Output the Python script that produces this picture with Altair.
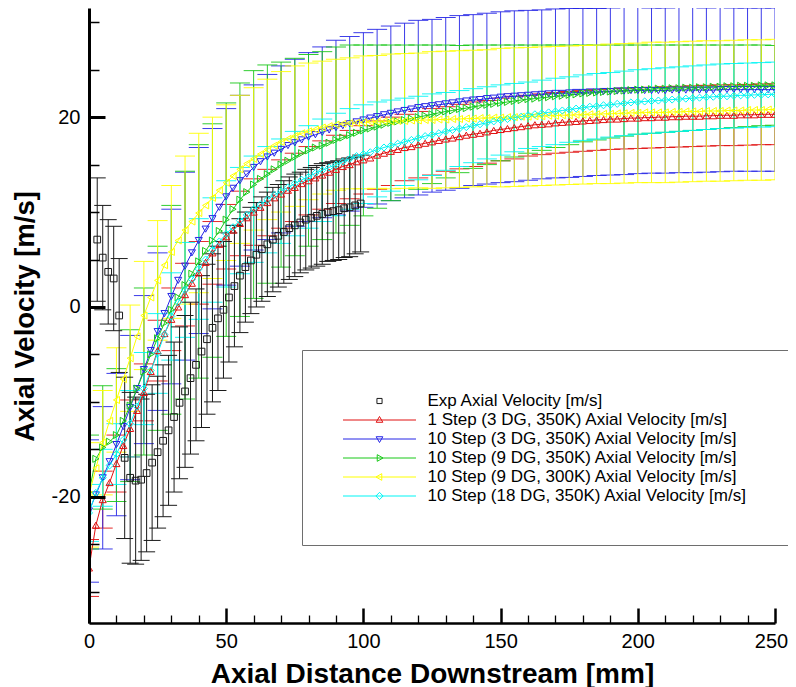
import altair as alt
import pandas as pd

# ---------------- data ----------------
SERIES = [
    "Exp Axial Velocity [m/s]",
    "1 Step (3 DG, 350K) Axial Velocity [m/s]",
    "10 Step (3 DG, 350K) Axial Velocity [m/s]",
    "10 Step (9 DG, 350K) Axial Velocity [m/s]",
    "10 Step (9 DG, 300K) Axial Velocity [m/s]",
    "10 Step (18 DG, 350K) Axial Velocity [m/s]",
]
COLORS = ["#1a1a1a", "#e01010", "#2525e6", "#19c819", "#ffff00", "#00f5f5"]
MARKERS = ["square", "triangle-up", "triangle-down", "triangle-right", "triangle-left", "diamond"]

# experimental points (x every 2 mm)
EXP_X = list(range(3, 100, 2))
EXP_V = [7.1, 5.2, 3.7, 3.0, -0.9, -15.9, -18.0, -18.3, -18.2, -17.5,
         -16.4, -15.3, -14.1, -13.0, -11.6, -10.1, -8.9, -7.5, -6.1, -4.7,
         -3.4, -2.2, -1.2, -0.3, 1.0, 2.2, 3.3, 4.2, 4.9, 5.5,
         6.1, 6.6, 7.1, 7.5, 7.9, 8.3, 8.6, 8.9, 9.2, 9.4,
         9.6, 9.8, 10.0, 10.1, 10.2, 10.4, 10.5, 10.7, 10.9]
EXP_ERR = [6.5, 5.5, 5.5, 5.5, 6.0, 8.5, 9.0, 8.8, 8.5, 8.3,
           8.2, 8.0, 8.0, 7.9, 7.9, 8.0, 8.0, 8.0, 8.0, 8.0,
           7.9, 7.8, 7.6, 7.2, 6.8, 6.4, 6.0, 5.8, 5.6, 5.5,
           5.5, 5.5, 5.5, 5.4, 5.4, 5.4, 5.4, 5.3, 5.3, 5.3,
           5.3, 5.3, 5.2, 5.2, 5.2, 5.2, 5.2, 5.1, 5.1]

# model curves (x every 2.5 mm)
X_MODEL = [i * 2.5 for i in range(101)]
RED_V = [-27.5, -23.0, -20.3, -18.5, -16.5, -14.6, -12.8, -10.9, -9.0, -6.8,
         -4.6, -2.8, -1.3, 0.0, 1.3, 2.5, 3.6, 4.7, 5.7, 6.6,
         7.4, 8.1, 8.8, 9.4, 10.0, 10.5, 11.0, 11.5, 11.9, 12.3,
         12.6, 13.0, 13.3, 13.6, 13.9, 14.2, 14.5, 14.8, 15.0, 15.3,
         15.5, 15.7, 16.0, 16.2, 16.4, 16.6, 16.8, 16.9, 17.1, 17.25,
         17.4, 17.55, 17.7, 17.8, 17.95, 18.1, 18.2, 18.3, 18.45, 18.6,
         18.7, 18.8, 18.9, 19.0, 19.1, 19.2, 19.25, 19.3, 19.4, 19.45,
         19.5, 19.55, 19.6, 19.65, 19.7, 19.75, 19.8, 19.8, 19.85, 19.9,
         19.9, 19.95, 19.95, 20.0, 20.0, 20.05, 20.05, 20.1, 20.1, 20.1,
         20.15, 20.15, 20.2, 20.2, 20.2, 20.25, 20.25, 20.25, 20.3, 20.3,
         20.3]
BLUE_V = [-21.5, -19.8, -18.0, -16.3, -14.5, -12.6, -10.6, -8.6, -6.6, -4.6,
          -2.6, -0.7, 1.1, 2.8, 4.3, 5.7, 7.0, 8.2, 9.3, 10.5,
          11.6, 12.5, 13.3, 14.0, 14.7, 15.3, 15.8, 16.2, 16.6, 17.0,
          17.3, 17.6, 17.9, 18.15, 18.4, 18.65, 18.9, 19.1, 19.3, 19.5,
          19.7, 19.9, 20.05, 20.25, 20.4, 20.55, 20.7, 20.85, 21.0, 21.1,
          21.2, 21.3, 21.4, 21.5, 21.6, 21.7, 21.8, 21.85, 21.95, 22.0,
          22.1, 22.15, 22.2, 22.25, 22.3, 22.35, 22.4, 22.45, 22.5, 22.5,
          22.55, 22.6, 22.6, 22.65, 22.65, 22.7, 22.7, 22.75, 22.75, 22.8,
          22.8, 22.8, 22.8, 22.8, 22.8, 22.85, 22.85, 22.85, 22.85, 22.85,
          22.85, 22.85, 22.9, 22.9, 22.9, 22.9, 22.9, 22.9, 22.9, 22.9,
          22.9]
GREEN_V = [-19.5, -16.0, -14.8, -14.2, -13.5, -12.0, -10.4, -8.6, -6.8, -5.0,
           -3.3, -1.7, -0.3, 1.0, 2.3, 3.5, 4.8, 5.9, 7.0, 8.0,
           9.2, 10.3, 11.3, 12.1, 12.9, 13.5, 14.0, 14.5, 15.0, 15.4,
           15.8, 16.2, 16.5, 16.8, 17.0, 17.3, 17.6, 17.85, 18.1, 18.35,
           18.6, 18.8, 19.0, 19.2, 19.4, 19.55, 19.7, 19.85, 20.0, 20.15,
           20.3, 20.45, 20.6, 20.7, 20.85, 20.95, 21.1, 21.2, 21.3, 21.4,
           21.5, 21.6, 21.7, 21.8, 21.9, 21.95, 22.05, 22.1, 22.2, 22.25,
           22.35, 22.4, 22.5, 22.55, 22.6, 22.65, 22.7, 22.75, 22.8, 22.85,
           22.9, 22.9, 22.95, 23.0, 23.0, 23.05, 23.05, 23.1, 23.1, 23.15,
           23.15, 23.2, 23.2, 23.25, 23.25, 23.3, 23.3, 23.3, 23.35, 23.35,
           23.35]
YELLOW_V = [-19.8, -17.0, -14.3, -12.0, -9.8, -7.6, -5.4, -3.1, -0.9, 1.0,
            2.8, 4.4, 5.8, 7.0, 8.1, 9.0, 9.9, 10.7, 11.5, 12.3,
            13.1, 13.8, 14.5, 15.1, 15.6, 16.1, 16.6, 17.0, 17.4, 17.7,
            18.0, 18.3, 18.5, 18.7, 18.9, 19.05, 19.2, 19.3, 19.35, 19.4,
            19.45, 19.5, 19.5, 19.55, 19.55, 19.6, 19.6, 19.65, 19.65, 19.7,
            19.7, 19.75, 19.75, 19.8, 19.8, 19.85, 19.85, 19.9, 19.9, 19.95,
            19.95, 20.0, 20.0, 20.05, 20.05, 20.1, 20.1, 20.15, 20.15, 20.2,
            20.2, 20.25, 20.25, 20.3, 20.3, 20.35, 20.35, 20.4, 20.4, 20.45,
            20.45, 20.5, 20.5, 20.5, 20.5, 20.55, 20.55, 20.6, 20.6, 20.6,
            20.65, 20.65, 20.65, 20.7, 20.7, 20.7, 20.75, 20.75, 20.75, 20.8,
            20.8]
CYAN_V = [-21.7, -19.6, -18.0, -16.7, -15.5, -14.0, -12.3, -10.5, -8.6, -6.7,
          -4.9, -2.9, -1.0, 0.5, 1.8, 2.9, 4.0, 5.0, 6.0, 6.9,
          7.7, 8.4, 9.1, 9.7, 10.3, 10.8, 11.3, 11.8, 12.2, 12.6,
          13.0, 13.4, 13.7, 14.1, 14.4, 14.7, 15.0, 15.3, 15.6, 15.9,
          16.1, 16.3, 16.6, 16.8, 17.0, 17.2, 17.4, 17.6, 17.8, 18.0,
          18.15, 18.3, 18.5, 18.65, 18.8, 18.95, 19.1, 19.25, 19.4, 19.55,
          19.7, 19.8, 19.95, 20.05, 20.2, 20.3, 20.4, 20.5, 20.6, 20.7,
          20.8, 20.9, 21.0, 21.1, 21.15, 21.25, 21.3, 21.4, 21.45, 21.55,
          21.6, 21.65, 21.7, 21.75, 21.8, 21.85, 21.9, 21.95, 22.0, 22.05,
          22.1, 22.15, 22.2, 22.2, 22.25, 22.3, 22.3, 22.35, 22.35, 22.4,
          22.4]

# model error-bar half widths (every 5 mm, on every other model point)
X_ERR = [i * 5.0 for i in range(51)]
RED_ERR = [3.0, 3.0, 3.0, 3.0, 3.0, 3.2, 3.3, 3.3, 3.3, 3.3,
           3.4, 3.4, 3.5, 3.5, 3.6, 3.6, 3.6, 3.6, 3.6, 3.6,
           3.6, 3.6, 3.6, 3.5, 3.5, 3.5, 3.4, 3.4, 3.4, 3.3,
           3.3, 3.3, 3.2, 3.2, 3.2, 3.2, 3.2, 3.2, 3.2, 3.2,
           3.2, 3.2, 3.2, 3.2, 3.2, 3.2, 3.2, 3.2, 3.2, 3.2,
           3.2]
BLUE_ERR = [7.5, 7.5, 7.5, 7.6, 7.8, 8.3, 9.2, 9.9, 9.8, 9.5,
            9.3, 9.0, 8.7, 8.7, 8.8, 8.8, 8.9, 9.0, 9.2, 9.2,
            9.2, 9.2, 9.2, 9.2, 9.2, 9.1, 9.1, 9.1, 9.0, 9.0,
            9.0, 9.0, 8.95, 8.9, 8.9, 8.9, 8.85, 8.8, 8.8, 8.8,
            8.75, 8.7, 8.7, 8.7, 8.7, 8.65, 8.65, 8.6, 8.6, 8.6,
            8.6]
GREEN_ERR = [6.0, 6.5, 7.0, 8.0, 8.8, 9.7, 11.0, 12.0, 12.3, 12.3,
             12.3, 12.3, 12.0, 11.5, 10.8, 10.4, 10.1, 9.9, 9.8, 9.5,
             9.0, 8.6, 8.2, 7.9, 7.6, 7.3, 7.0, 6.7, 6.5, 6.3,
             6.1, 5.9, 5.7, 5.55, 5.4, 5.25, 5.1, 5.0, 4.9, 4.8,
             4.7, 4.65, 4.6, 4.55, 4.5, 4.45, 4.4, 4.35, 4.3, 4.25,
             4.2]
YELLOW_ERR = [5.5, 5.5, 5.5, 5.6, 5.7, 6.3, 7.0, 7.8, 8.4, 8.5,
              8.2, 7.8, 7.5, 7.4, 7.4, 7.4, 7.2, 7.0, 6.9, 6.9,
              7.0, 7.0, 7.1, 7.1, 7.1, 7.2, 7.2, 7.2, 7.2, 7.2,
              7.3, 7.3, 7.3, 7.3, 7.3, 7.3, 7.3, 7.3, 7.35, 7.35,
              7.35, 7.4, 7.4, 7.4, 7.4, 7.4, 7.4, 7.4, 7.4, 7.4,
              7.4]
CYAN_ERR = [3.0, 3.0, 3.2, 3.5, 3.8, 4.2, 4.6, 5.0, 5.3, 5.5,
            5.6, 5.6, 5.6, 5.6, 5.5, 5.5, 5.4, 5.4, 5.4, 5.3,
            5.2, 5.0, 4.8, 4.6, 4.4, 4.3, 4.1, 4.0, 3.9, 3.8,
            3.7, 3.6, 3.5, 3.5, 3.5, 3.45, 3.45, 3.45, 3.4, 3.4,
            3.4, 3.4, 3.4, 3.4, 3.4, 3.4, 3.4, 3.4, 3.4, 3.4,
            3.4]

X_DOMAIN = [0, 250]
Y_DOMAIN = [-33.3, 31.5]
X_MAJOR = [0, 50, 100, 150, 200, 250]
X_MINOR = [10, 20, 30, 40, 60, 70, 80, 90, 110, 120, 130, 140, 160, 170, 180, 190, 210, 220, 230, 240]
Y_MAJOR = [-20, 0, 20]
Y_MINOR = [-30, -25, -15, -10, -5, 5, 10, 15, 25, 30]

# legend glyphs: line segment plus marker (symbol units, 1 unit = 9.5 px)
LEGEND_PATHS = [
    "M-3.842,0M3.842,0M-0.27,-0.27L0.27,-0.27L0.27,0.27L-0.27,0.27Z",
    "M-3.842,0L3.842,0M0,-0.37L0.35,0.24L-0.35,0.24Z",
    "M-3.842,0L3.842,0M0,0.37L0.35,-0.24L-0.35,-0.24Z",
    "M-3.842,0L3.842,0M0.37,0L-0.24,-0.35L-0.24,0.35Z",
    "M-3.842,0L3.842,0M-0.37,0L0.24,-0.35L0.24,0.35Z",
    "M-3.842,0L3.842,0M0,-0.38L0.38,0L0,0.38L-0.38,0Z",
]

FONT = "Liberation Sans"

# ---------------- tables ----------------
MODEL_V = [RED_V, BLUE_V, GREEN_V, YELLOW_V, CYAN_V]
MODEL_ERR = [RED_ERR, BLUE_ERR, GREEN_ERR, YELLOW_ERR, CYAN_ERR]

line_frames = []
err_frames = []
for name, vals, errs in zip(SERIES[1:], MODEL_V, MODEL_ERR):
    line_frames.append(pd.DataFrame({"series": name, "x": X_MODEL, "v": vals}))
    centers = vals[::2]
    err_frames.append(pd.DataFrame({
        "series": name, "x": X_ERR, "v": centers,
        "lo": [c - e for c, e in zip(centers, errs)],
        "hi": [c + e for c, e in zip(centers, errs)],
    }))

exp_df = pd.DataFrame({
    "x": EXP_X, "v": EXP_V,
    "lo": [v - e for v, e in zip(EXP_V, EXP_ERR)],
    "hi": [v + e for v, e in zip(EXP_V, EXP_ERR)],
})

XS = alt.Scale(domain=X_DOMAIN, nice=False, zero=False)
YS = alt.Scale(domain=Y_DOMAIN, nice=False, zero=False)


def xe(axis=None):
    return alt.X("x:Q", scale=XS, axis=axis)


def ye(field="v", axis=None):
    return alt.Y(f"{field}:Q", scale=YS, axis=axis)


def tick_axis(orient, values, length, width):
    return alt.Axis(orient=orient, values=values, offset=-length, tickSize=length,
                    tickWidth=width, tickColor="black", labels=False, domain=False,
                    grid=False, title=None, zindex=1)


x_label_axis = alt.Axis(
    orient="bottom", values=X_MAJOR, ticks=False, tickSize=0, domain=True,
    domainColor="black", domainWidth=2.5, grid=False, labelFont=FONT,
    labelFontSize=20, labelColor="black", labelPadding=8, labelFlush=False,
    labelOffset={"condition": {"test": "datum.value == 250", "value": -4}, "value": 0},
    title="Axial Distance Downstream [mm]", titleFont=FONT, titleFontSize=28,
    titleFontWeight="bold", titleColor="black", titleY=59,
    titleBaseline="alphabetic", zindex=1,
)
y_label_axis = alt.Axis(
    orient="left", values=Y_MAJOR, ticks=False, tickSize=0, domain=True,
    domainColor="black", domainWidth=3, grid=False, labelFont=FONT,
    labelFontSize=20, labelColor="black", labelPadding=9, labelFlush=False,
    labelExpr="'' + datum.value",
    title="Axial Velocity [m/s]", titleFont=FONT, titleFontSize=27.5,
    titleFontWeight="bold", titleColor="black", titleX=-64, titleY=308,
    titleAlign="center", titleBaseline="middle", zindex=1,
)

layers = []

# model error bars
for name, color, ef in zip(SERIES[1:], COLORS[1:], err_frames):
    layers.append(alt.Chart(ef).mark_rule(color=color, strokeWidth=1, opacity=0.9, clip=True).encode(
        x=xe(), y=ye("lo"), y2="hi:Q"))
    layers.append(alt.Chart(ef).transform_fold(["lo", "hi"], as_=["end", "yv"]).mark_tick(
        orient="horizontal", size=20, thickness=1, color=color, opacity=0.9, clip=True).encode(
        x=xe(), y=ye("yv")))

# experimental error bars
layers.append(alt.Chart(exp_df).mark_rule(color=COLORS[0], strokeWidth=1, clip=True).encode(
    x=xe(), y=ye("lo"), y2="hi:Q"))
layers.append(alt.Chart(exp_df).transform_fold(["lo", "hi"], as_=["end", "yv"]).mark_tick(
    orient="horizontal", size=17, thickness=1, color=COLORS[0], opacity=1, clip=True).encode(
    x=xe(), y=ye("yv")))

# model lines (two of them carry the inward tick axes)
for i, (name, color, lf) in enumerate(zip(SERIES[1:], COLORS[1:], line_frames)):
    if i == 0:
        xa = tick_axis("bottom", X_MAJOR, 15, 2.5)
        ya = tick_axis("left", Y_MAJOR, 16, 3)
    elif i == 1:
        xa = tick_axis("bottom", X_MINOR, 8, 1.3)
        ya = tick_axis("left", Y_MINOR, 10, 1.5)
    else:
        xa = None
        ya = None
    layers.append(alt.Chart(lf).mark_line(color=color, strokeWidth=1, clip=True).encode(
        x=xe(xa), y=ye("v", ya)))

# model markers
for name, color, shape, lf in zip(SERIES[1:], COLORS[1:], MARKERS[1:], line_frames):
    layers.append(alt.Chart(lf).mark_point(shape=shape, filled=False, size=50, strokeWidth=1,
                                           color=color, opacity=1, clip=True).encode(x=xe(), y=ye()))

# experimental markers (carry the labelled axes)
layers.append(alt.Chart(exp_df).mark_point(shape=MARKERS[0], filled=False, size=45, strokeWidth=1,
                                           color=COLORS[0], opacity=1, clip=True).encode(
    x=xe(x_label_axis), y=ye("v", y_label_axis)))

# legend only layer
legend_df = pd.DataFrame({"series": SERIES})
leg = alt.Legend(orient="none", legendX=213, legendY=342, title=None)
layers.append(alt.Chart(legend_df).transform_filter("false").mark_point(
    filled=False, opacity=1, strokeWidth=1).encode(
    color=alt.Color("series:N", scale=alt.Scale(domain=SERIES, range=COLORS), legend=leg),
    shape=alt.Shape("series:N", scale=alt.Scale(domain=SERIES, range=LEGEND_PATHS), legend=leg),
))

chart = alt.layer(*layers).resolve_axis(x="independent", y="independent").properties(
    width=686, height=615,
    padding={"left": 81, "top": 0, "right": 13, "bottom": 64},
    autosize=alt.AutoSizeParams(type="none"),
).configure_view(stroke=None).configure_legend(
    padding=41, strokeColor="#6e6e6e", fillColor="white", cornerRadius=0,
    labelFont=FONT, labelFontSize=17, labelColor="black", labelLimit=600,
    labelOffset=38, symbolSize=361, symbolStrokeWidth=1, symbolOffset=26.5,
    rowPadding=1.0,
)

chart.save("out.html", embed_options={"renderer": "svg", "actions": False})
